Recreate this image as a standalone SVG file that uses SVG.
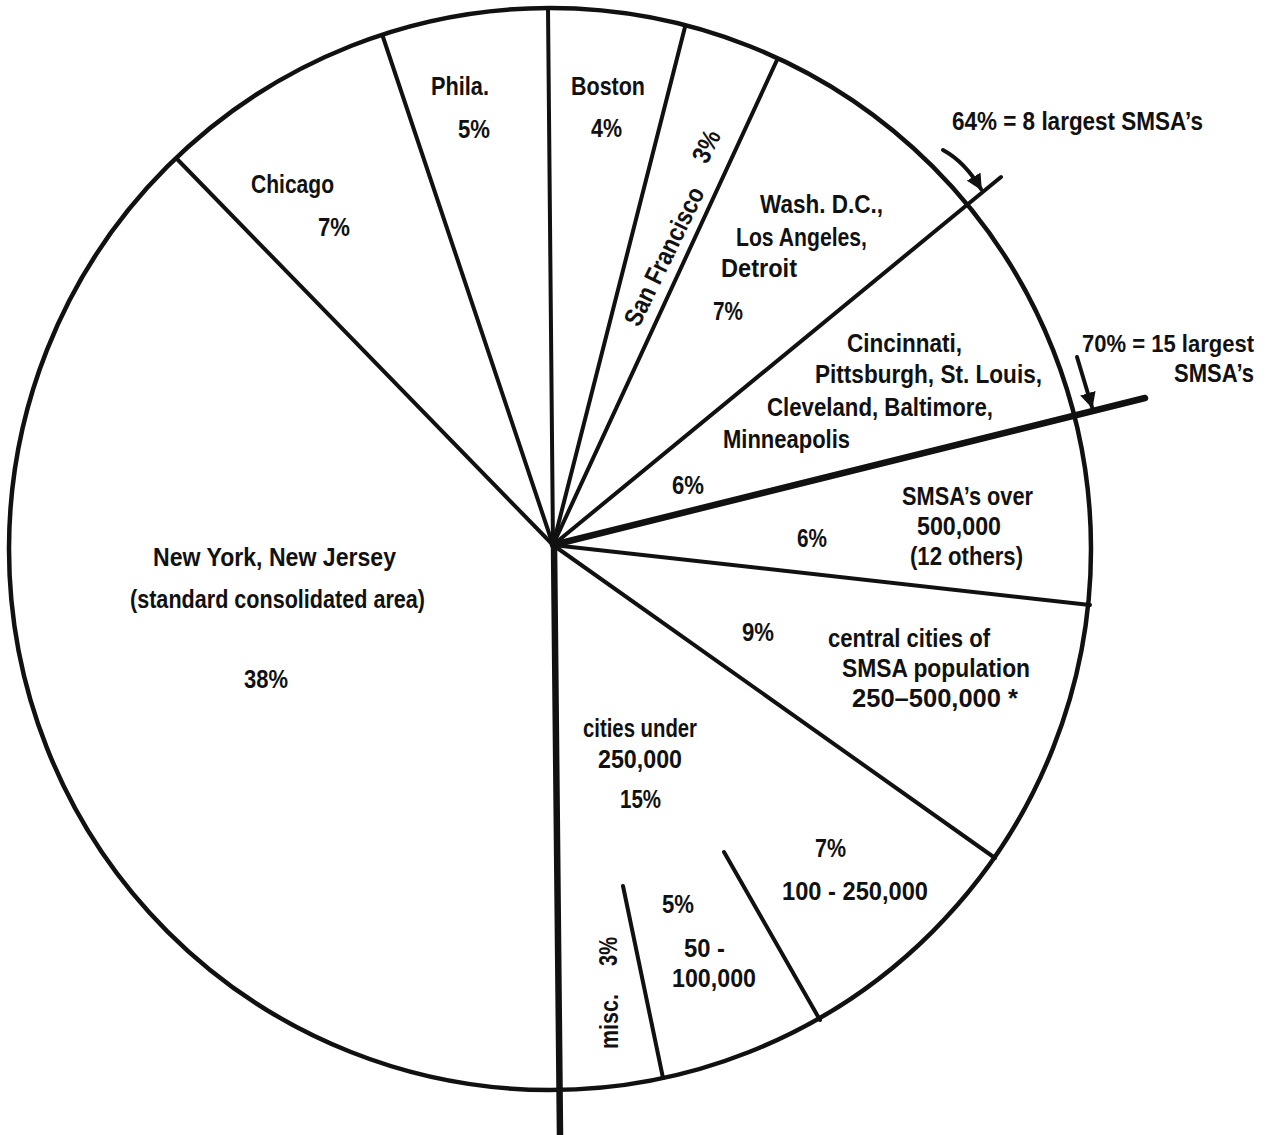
<svg xmlns="http://www.w3.org/2000/svg" width="1274" height="1135" viewBox="0 0 1274 1135">
<style>
text{font-family:"Liberation Sans","Arial",sans-serif;font-size:26px;font-weight:bold;fill:#111}
.ln{stroke:#111;stroke-width:4;fill:none;stroke-linecap:round}
.thick{stroke:#111;stroke-width:6.5;fill:none;stroke-linecap:round}
.rim{stroke:#111;stroke-width:4.5;fill:none}
</style>
<defs>
<marker id="ah" viewBox="0 0 10 10" refX="9" refY="5" markerWidth="4" markerHeight="4" orient="auto" markerUnits="strokeWidth">
<path d="M0,0 L10,5 L0,10 Z" fill="#111"/>
</marker>
</defs>
<rect width="1274" height="1135" fill="#fff"/>
<g id="connectors">
<circle class="rim" cx="550" cy="549" r="541"/>
<line class="ln" x1="553" y1="545" x2="548" y2="8"/>
<line class="ln" x1="553" y1="545" x2="383" y2="37"/>
<line class="ln" x1="553" y1="545" x2="178" y2="160"/>
<line class="ln" x1="553" y1="545" x2="685" y2="27"/>
<line class="ln" x1="553" y1="545" x2="777" y2="60"/>
<line class="ln" x1="553" y1="545" x2="1001" y2="177"/>
<line class="thick" x1="553" y1="545" x2="1145" y2="398"/>
<line class="ln" x1="553" y1="545" x2="1090" y2="605"/>
<line class="ln" x1="553" y1="545" x2="995" y2="858"/>
<line class="thick" x1="554" y1="545" x2="560" y2="1135"/>
<line class="ln" x1="623" y1="886" x2="663" y2="1078"/>
<line class="ln" x1="724" y1="852" x2="820" y2="1020"/>
<path class="ln" d="M943,150 Q965,162 981,189" stroke-width="3" marker-end="url(#ah)"/>
<path class="ln" d="M1077,357 L1092,407" stroke-width="3" marker-end="url(#ah)"/>
</g>
<g id="phila"><text x="431" y="95" textLength="58" lengthAdjust="spacingAndGlyphs">Phila.</text><text x="458" y="138" textLength="32" lengthAdjust="spacingAndGlyphs">5%</text></g>
<g id="boston"><text x="571" y="95" textLength="74" lengthAdjust="spacingAndGlyphs">Boston</text><text x="591" y="137" textLength="31" lengthAdjust="spacingAndGlyphs">4%</text></g>
<g id="chicago"><text x="251" y="193" textLength="83" lengthAdjust="spacingAndGlyphs">Chicago</text><text x="318" y="236" textLength="32" lengthAdjust="spacingAndGlyphs">7%</text></g>
<g id="sanfrancisco">
<text transform="translate(639,328) rotate(-64)" textLength="151" lengthAdjust="spacingAndGlyphs">San Francisco</text>
<text transform="translate(707,165) rotate(-64)" textLength="33" lengthAdjust="spacingAndGlyphs">3%</text>
</g>
<g id="wash">
<text x="760" y="213" textLength="123" lengthAdjust="spacingAndGlyphs">Wash. D.C.,</text>
<text x="736" y="246" textLength="131" lengthAdjust="spacingAndGlyphs">Los Angeles,</text>
<text x="721" y="277" textLength="76" lengthAdjust="spacingAndGlyphs">Detroit</text>
<text x="713" y="320" textLength="30" lengthAdjust="spacingAndGlyphs">7%</text>
</g>
<g id="label64"><text x="952" y="130" textLength="251" lengthAdjust="spacingAndGlyphs">64% = 8 largest SMSA’s</text></g>
<g id="label70">
<text x="1082" y="352" style="font-size:24px" textLength="172" lengthAdjust="spacingAndGlyphs">70% = 15 largest</text>
<text x="1174" y="382" textLength="80" lengthAdjust="spacingAndGlyphs">SMSA’s</text>
</g>
<g id="cincinnati">
<text x="847" y="352" textLength="115" lengthAdjust="spacingAndGlyphs">Cincinnati,</text>
<text x="815" y="383" textLength="227" lengthAdjust="spacingAndGlyphs">Pittsburgh, St. Louis,</text>
<text x="767" y="416" textLength="226" lengthAdjust="spacingAndGlyphs">Cleveland, Baltimore,</text>
<text x="723" y="448" textLength="127" lengthAdjust="spacingAndGlyphs">Minneapolis</text>
<text x="672" y="494" textLength="32" lengthAdjust="spacingAndGlyphs">6%</text>
</g>
<g id="smsaover">
<text x="902" y="505" textLength="131" lengthAdjust="spacingAndGlyphs">SMSA’s over</text>
<text x="917" y="535" textLength="84" lengthAdjust="spacingAndGlyphs">500,000</text>
<text x="910" y="565" textLength="113" lengthAdjust="spacingAndGlyphs">(12 others)</text>
<text x="797" y="547" textLength="30" lengthAdjust="spacingAndGlyphs">6%</text>
</g>
<g id="centralcities">
<text x="742" y="641" textLength="32" lengthAdjust="spacingAndGlyphs">9%</text>
<text x="828" y="647" textLength="162" lengthAdjust="spacingAndGlyphs">central cities of</text>
<text x="842" y="677" textLength="188" lengthAdjust="spacingAndGlyphs">SMSA population</text>
<text x="852" y="707" textLength="166" lengthAdjust="spacingAndGlyphs">250–500,000 *</text>
</g>
<g id="newyork">
<text x="153" y="566" textLength="243" lengthAdjust="spacingAndGlyphs">New York, New Jersey</text>
<text x="130" y="608" textLength="295" lengthAdjust="spacingAndGlyphs">(standard consolidated area)</text>
<text x="244" y="688" textLength="44" lengthAdjust="spacingAndGlyphs">38%</text>
</g>
<g id="citiesunder">
<text x="583" y="737" textLength="114" lengthAdjust="spacingAndGlyphs">cities under</text>
<text x="598" y="768" textLength="84" lengthAdjust="spacingAndGlyphs">250,000</text>
<text x="620" y="808" textLength="41" lengthAdjust="spacingAndGlyphs">15%</text>
</g>
<g id="c100">
<text x="815" y="857" textLength="31" lengthAdjust="spacingAndGlyphs">7%</text>
<text x="782" y="900" textLength="146" lengthAdjust="spacingAndGlyphs">100 - 250,000</text>
</g>
<g id="c50">
<text x="662" y="913" textLength="32" lengthAdjust="spacingAndGlyphs">5%</text>
<text x="684" y="957" textLength="41" lengthAdjust="spacingAndGlyphs">50 -</text>
<text x="672" y="987" textLength="84" lengthAdjust="spacingAndGlyphs">100,000</text>
</g>
<g id="misc">
<text transform="translate(617,966) rotate(-90)" textLength="29" lengthAdjust="spacingAndGlyphs">3%</text>
<text transform="translate(618,1049) rotate(-90)" textLength="55" lengthAdjust="spacingAndGlyphs">misc.</text>
</g>
</svg>
